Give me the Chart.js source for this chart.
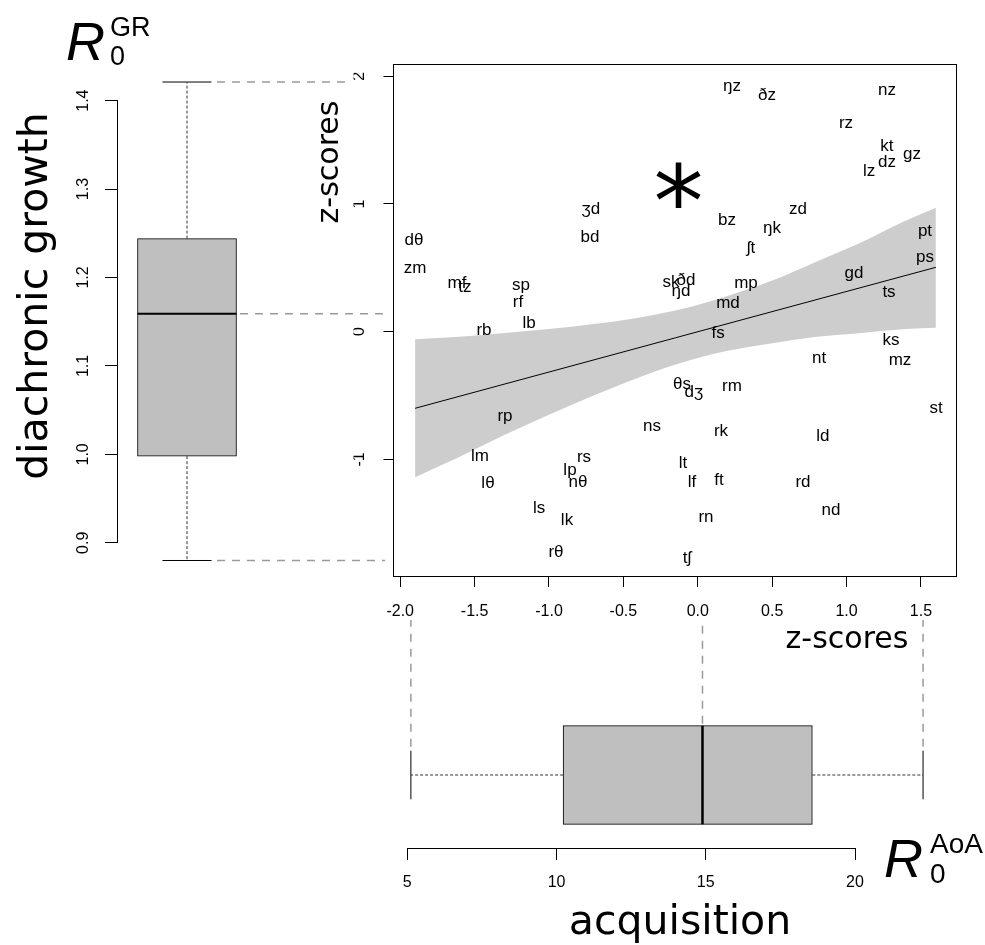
<!DOCTYPE html>
<html lang="en">
<head>
<meta charset="utf-8">
<title>Diachronic growth vs acquisition</title>
<script src="https://cdn.jsdelivr.net/npm/chart.js@4.4.1/dist/chart.umd.min.js"></script>
<style>
  html, body { margin:0; padding:0; background:#ffffff; }
  #stage { position:relative; width:985px; height:945px; overflow:hidden; background:#fff; }
  #stage canvas { position:absolute; left:0; top:0; }
</style>
</head>
<body>
<div id="stage">
  <canvas id="grCanvas" width="985" height="945"></canvas>
  <canvas id="aoaCanvas" width="985" height="945"></canvas>
  <canvas id="mainCanvas" width="985" height="945"></canvas>
</div>
<script>
// ---------------- data ----------------
const phonemeLabels = ["dθ","zm","mf","tz","sp","rf","lb","rb","ʒd","bd","ŋz","ðz","nz","rz","kt","dz","gz","lz","bz","ŋk","zd","ʃt","pt","ps","gd","ts","sk","ðd","ŋd","mp","md","fs","ks","mz","nt","θs","dʒ","rm","st","ns","rk","ld","lt","lf","ft","rd","nd","rn","tʃ","rp","lm","lθ","rs","lp","nθ","ls","lk","rθ"];
const zAcquisition = [-1.907,-1.900,-1.618,-1.565,-1.188,-1.208,-1.134,-1.437,-0.718,-0.724,0.230,0.465,1.271,0.996,1.271,1.271,1.440,1.151,0.196,0.499,0.673,0.358,1.527,1.527,1.050,1.285,-0.180,-0.079,-0.113,0.324,0.203,0.136,1.298,1.359,0.815,-0.106,-0.026,0.230,1.601,-0.308,0.156,0.841,-0.099,-0.039,0.142,0.707,0.895,0.055,-0.073,-1.296,-1.464,-1.410,-0.765,-0.859,-0.805,-1.067,-0.879,-0.953];
const zGrowth = [0.718,0.499,0.381,0.350,0.366,0.233,0.068,0.013,0.961,0.742,1.924,1.854,1.893,1.634,1.454,1.329,1.392,1.258,0.875,0.812,0.961,0.655,0.789,0.585,0.460,0.311,0.389,0.405,0.319,0.381,0.225,-0.010,-0.065,-0.222,-0.206,-0.410,-0.472,-0.425,-0.597,-0.738,-0.778,-0.817,-1.028,-1.177,-1.161,-1.177,-1.396,-1.451,-1.772,-0.660,-0.973,-1.185,-0.981,-1.083,-1.177,-1.381,-1.475,-1.725];
const fitX = [-1.9, 1.6];
const fitY = [-0.600, 0.504];
const bandX     = [-1.9, -1.6, -1.3, -1.0, -0.7, -0.4, -0.1, 0.2, 0.5, 0.8, 1.1, 1.4, 1.6];
const bandUpper = [-0.06, -0.04, -0.01, 0.02, 0.06, 0.11, 0.18, 0.28, 0.40, 0.55, 0.70, 0.87, 0.97];
const bandLower = [-1.14, -0.98, -0.81, -0.65, -0.50, -0.36, -0.24, -0.15, -0.09, -0.04, -0.01, 0.02, 0.03];
const grStats  = [0.880, 0.998, 1.159, 1.244, 1.421];   // min, Q1, median, Q3, max
const aoaStats = [5.12, 10.22, 14.89, 18.57, 22.28];     // min, Q1, median, Q3, max
const zTicksX = [-2.0, -1.5, -1.0, -0.5, 0.0, 0.5, 1.0, 1.5];
const zTicksY = [-1, 0, 1, 2];
const grTicks = [0.9, 1.0, 1.1, 1.2, 1.3, 1.4];
const aoaTicks = [5, 10, 15, 20];
const starMark = { x: -0.13, y: 1.145 };

// ---------------- styling ----------------
const FONT = "'Liberation Sans', Arial, Helvetica, sans-serif";
const TITLE_FONT = "'DejaVu Sans', 'Liberation Sans', sans-serif";
const BOX_FILL = '#bfbfbf';
const BAND_FILL = '#cdcdcd';
const CONNECT = '#9a9a9a';
const DASH = [8, 7];
const DOT = [3, 2];

Chart.defaults.font.family = FONT;
Chart.defaults.color = '#000';
Chart.defaults.animation = false;

const fixedTicks = values => scale => { scale.ticks = values.map(v => ({ value: v })); };
const seg = (x0, y0, x1, y1) => [{ x: x0, y: y0 }, { x: x1, y: y1 }];
const lineDs = (data, color, width, dash, order = 0) => ({
  type: 'line', data, borderColor: color, borderWidth: width, borderDash: dash || [],
  pointRadius: 0, pointHoverRadius: 0, fill: false, clip: false, order, tension: 0
});
const baseOptions = (padding, scales) => ({
  responsive: false, animation: false, events: [],
  layout: { padding, autoPadding: false },
  plugins: { legend: { display: false }, tooltip: { enabled: false } },
  scales
});

// ---------------- left: GR boxplot ----------------
const GB = { half: 0.495, cap: 0.245, dashStart: 0.30, medStart: 0.53, maxEnd: 1.65, end: 1.98 };
new Chart(document.getElementById('grCanvas'), {
  type: 'scatter',
  data: { datasets: [
    { type: 'bar', data: [{ x: 0, y: [grStats[1], grStats[3]] }], backgroundColor: BOX_FILL,
      borderColor: '#000', borderWidth: 1, borderSkipped: false, barThickness: 99, clip: false, order: 5 },
    lineDs(seg(0, grStats[3], 0, grStats[4]), '#333', 1, DOT),
    lineDs(seg(0, grStats[1], 0, grStats[0]), '#333', 1, DOT),
    lineDs(seg(-GB.cap, grStats[4], GB.cap, grStats[4]), '#000', 1),
    lineDs(seg(-GB.cap, grStats[0], GB.cap, grStats[0]), '#000', 1),
    lineDs(seg(-GB.half, grStats[2], GB.half, grStats[2]), '#000', 2),
    lineDs(seg(GB.dashStart, grStats[4], GB.maxEnd, grStats[4]), CONNECT, 1.5, DASH),
    lineDs(seg(GB.medStart, grStats[2], GB.end, grStats[2]), CONNECT, 1.5, DASH),
    lineDs(seg(GB.dashStart, grStats[0], GB.end, grStats[0]), CONNECT, 1.5, DASH)
  ]},
  options: baseOptions({ left: 57, right: 592, top: 100.6, bottom: 402.2 }, {
    x: { type: 'linear', display: false, min: -0.70, max: 2.06, offset: false, grid: { offset: false } },
    y: { type: 'linear', position: 'left', min: 0.9, max: 1.4, offset: false,
      afterBuildTicks: fixedTicks(grTicks),
      afterFit: s => { s.width = 60; },
      ticks: { autoSkip: false, minRotation: 90, maxRotation: 90, crossAlign: 'center', padding: 10.4,
        font: { size: 16, family: FONT }, color: '#000', callback: v => Number(v).toFixed(1) },
      grid: { offset: false, drawOnChartArea: false, drawTicks: true, tickLength: 12, color: '#000', tickColor: '#000', tickWidth: 1 },
      border: { display: true, color: '#000', width: 1 } }
  })
});

// ---------------- bottom: AoA boxplot ----------------
const AB = { half: 0.493, cap: 0.243, top: 1.55 };
new Chart(document.getElementById('aoaCanvas'), {
  type: 'scatter',
  data: { datasets: [
    { type: 'bar', indexAxis: 'y', data: [{ y: 0, x: [aoaStats[1], aoaStats[3]] }], backgroundColor: BOX_FILL,
      borderColor: '#000', borderWidth: 1, borderSkipped: false, barThickness: 98.6, clip: false, order: 5 },
    lineDs(seg(aoaStats[3], 0, aoaStats[4], 0), '#333', 1, DOT),
    lineDs(seg(aoaStats[1], 0, aoaStats[0], 0), '#333', 1, DOT),
    lineDs(seg(aoaStats[0], -AB.cap, aoaStats[0], AB.cap), '#000', 1),
    lineDs(seg(aoaStats[4], -AB.cap, aoaStats[4], AB.cap), '#000', 1),
    lineDs(seg(aoaStats[2], -AB.half, aoaStats[2], AB.half), '#000', 2.5),
    lineDs(seg(aoaStats[0], AB.cap + 0.04, aoaStats[0], AB.top), CONNECT, 1.5, DASH),
    lineDs(seg(aoaStats[2], AB.half + 0.02, aoaStats[2], AB.top), CONNECT, 1.5, DASH),
    lineDs(seg(aoaStats[4], AB.cap + 0.04, aoaStats[4], AB.top), CONNECT, 1.5, DASH)
  ]},
  options: baseOptions({ left: 407.3, right: 130, top: 620, bottom: 0 }, {
    x: { type: 'linear', position: 'bottom', min: 5, max: 20, offset: false,
      afterBuildTicks: fixedTicks(aoaTicks),
      afterFit: s => { s.height = 96.7; },
      ticks: { autoSkip: false, maxRotation: 0, minRotation: 0, padding: 13.4,
        font: { size: 16, family: FONT }, color: '#000', callback: v => String(v) },
      grid: { offset: false, drawOnChartArea: false, drawTicks: true, tickLength: 11.7, color: '#000', tickColor: '#000', tickWidth: 1 },
      border: { display: true, color: '#000', width: 1 } },
    y: { type: 'linear', display: false, min: -0.733, max: 1.55, offset: false, grid: { offset: false } }
  })
});

// ---------------- main scatter ----------------
const framePlugin = {
  id: 'frame',
  afterDatasetsDraw(chart) {
    const { ctx, chartArea: a } = chart;
    const x0 = Math.floor(a.left) + 0.5, y0 = Math.floor(a.top) + 0.5;
    const x1 = Math.ceil(a.right) - 0.5, y1 = Math.ceil(a.bottom) - 0.5;
    ctx.save();
    ctx.strokeStyle = '#000'; ctx.lineWidth = 1;
    ctx.strokeRect(x0, y0, x1 - x0, y1 - y0);
    ctx.restore();
  }
};
const labelPlugin = {
  id: 'pointText',
  afterDatasetsDraw(chart) {
    const { ctx } = chart;
    const idx = chart.data.datasets.findIndex(d => d.isLabelSet);
    const meta = chart.getDatasetMeta(idx);
    ctx.save();
    ctx.fillStyle = '#000';
    ctx.font = `17px ${FONT}`;
    ctx.textAlign = 'center';
    ctx.textBaseline = 'middle';
    meta.data.forEach((el, i) => ctx.fillText(phonemeLabels[i], el.x, el.y));
    // significance asterisk (DejaVu Sans six-armed glyph), sized to ~46 px of ink
    const px = chart.scales.x.getPixelForValue(starMark.x);
    const py = chart.scales.y.getPixelForValue(starMark.y);
    ctx.font = `100px ${TITLE_FONT}`;
    const m0 = ctx.measureText('*');
    const size = 100 * 46 / (m0.actualBoundingBoxRight + m0.actualBoundingBoxLeft);
    ctx.font = `${size}px ${TITLE_FONT}`;
    ctx.textAlign = 'left';
    ctx.textBaseline = 'alphabetic';
    const m = ctx.measureText('*');
    ctx.fillText('*', px - (m.actualBoundingBoxRight - m.actualBoundingBoxLeft) / 2,
      py + (m.actualBoundingBoxAscent - m.actualBoundingBoxDescent) / 2);
    ctx.restore();
  }
};
const titlePlugin = {
  id: 'pageTitles',
  afterDraw(chart) {
    const ctx = chart.ctx;
    const put = (text, x, y, font, align, rot) => {
      ctx.save();
      ctx.translate(x, y);
      if (rot) ctx.rotate(rot);
      ctx.font = font; ctx.fillStyle = '#000';
      ctx.textAlign = align; ctx.textBaseline = 'alphabetic';
      ctx.fillText(text, 0, 0);
      ctx.restore();
    };
    put('z-scores', 847, 648, `30px ${TITLE_FONT}`, 'center');
    put('z-scores', 338, 162, `30px ${TITLE_FONT}`, 'center', -Math.PI / 2);
    put('diachronic growth', 47, 296, `41px ${TITLE_FONT}`, 'center', -Math.PI / 2);
    put('acquisition', 680, 934, `41px ${TITLE_FONT}`, 'center');
    put('R', 66, 60, `italic 54px ${FONT}`, 'left');
    put('GR', 110, 36, `27px ${FONT}`, 'left');
    put('0', 110, 65, `27px ${FONT}`, 'left');
    put('R', 884, 877, `italic 54px ${FONT}`, 'left');
    put('AoA', 930, 853, `28px ${FONT}`, 'left');
    put('0', 930, 883, `28px ${FONT}`, 'left');
  }
};

new Chart(document.getElementById('mainCanvas'), {
  type: 'scatter',
  data: { datasets: [
    { type: 'line', data: fitX.map((x, i) => ({ x, y: fitY[i] })), borderColor: '#000', borderWidth: 1,
      pointRadius: 0, fill: false, order: 0, tension: 0 },
    { type: 'line', data: bandX.map((x, i) => ({ x, y: bandUpper[i] })), borderColor: 'rgba(0,0,0,0)', borderWidth: 0,
      backgroundColor: BAND_FILL, pointRadius: 0, fill: '+1', order: 2, cubicInterpolationMode: 'monotone' },
    { type: 'line', data: bandX.map((x, i) => ({ x, y: bandLower[i] })), borderColor: 'rgba(0,0,0,0)', borderWidth: 0,
      pointRadius: 0, fill: false, order: 2, cubicInterpolationMode: 'monotone' },
    { type: 'scatter', isLabelSet: true, data: zAcquisition.map((x, i) => ({ x, y: zGrowth[i] })),
      pointRadius: 0, pointHoverRadius: 0, order: 1 }
  ]},
  options: baseOptions({ left: 353.5, right: 28, top: 64, bottom: 318 }, {
    x: { type: 'linear', position: 'bottom', min: -2.045, max: 1.742, offset: false,
      afterBuildTicks: fixedTicks(zTicksX),
      afterFit: s => { s.height = 50; },
      ticks: { autoSkip: false, maxRotation: 0, minRotation: 0, padding: 15.4,
        font: { size: 16, family: FONT }, color: '#000', callback: v => Number(v).toFixed(1) },
      grid: { offset: false, drawOnChartArea: false, drawTicks: true, tickLength: 10, color: '#000', tickColor: '#000', tickWidth: 1 },
      border: { display: false } },
    y: { type: 'linear', position: 'left', min: -1.921, max: 2.096, offset: false,
      afterBuildTicks: fixedTicks(zTicksY),
      afterFit: s => { s.width = 40; },
      ticks: { autoSkip: false, minRotation: 90, maxRotation: 90, crossAlign: 'center', padding: 16.4,
        font: { size: 16, family: FONT }, color: '#000', callback: v => String(v) },
      grid: { offset: false, drawOnChartArea: false, drawTicks: true, tickLength: 10, color: '#000', tickColor: '#000', tickWidth: 1 },
      border: { display: false } }
  }),
  plugins: [framePlugin, labelPlugin, titlePlugin]
});
</script>
</body>
</html>
